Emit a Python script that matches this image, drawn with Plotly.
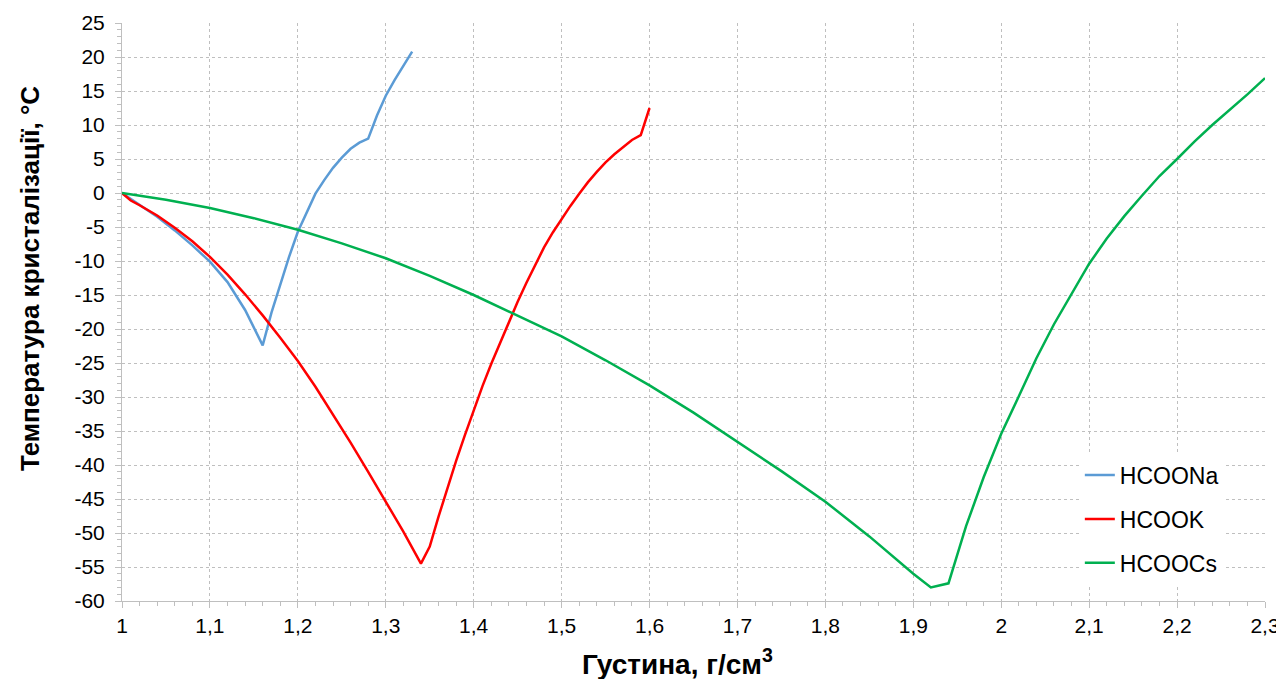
import plotly.graph_objects as go

# HCOONa
na_x = [1.00, 1.02, 1.04, 1.06, 1.08, 1.10, 1.12, 1.14, 1.16, 1.17, 1.18, 1.19, 1.20, 1.21, 1.22,
        1.23, 1.24, 1.25, 1.26, 1.27, 1.28, 1.29, 1.30, 1.31, 1.32, 1.33]
na_y = [0.0, -1.7, -3.5, -5.5, -7.7, -10.1, -13.1, -17.2, -22.4, -17.6, -13.4, -9.4, -5.7, -2.9, -0.1,
        1.9, 3.7, 5.2, 6.5, 7.4, 8.0, 11.4, 14.3, 16.6, 18.7, 20.8]

# HCOOK
k_x = [1.00, 1.01, 1.02, 1.04, 1.06, 1.08, 1.10, 1.12, 1.14, 1.16, 1.18, 1.20, 1.22, 1.24, 1.26,
       1.28, 1.30, 1.32, 1.34, 1.35, 1.36, 1.37, 1.38, 1.39, 1.40, 1.41, 1.42, 1.43, 1.44, 1.45,
       1.46, 1.47, 1.48, 1.49, 1.50, 1.51, 1.52, 1.53, 1.54, 1.55, 1.56, 1.57, 1.58, 1.59, 1.60]
k_y = [0.0, -1.1, -1.8, -3.3, -5.1, -7.1, -9.4, -12.0, -14.9, -18.0, -21.3, -24.7, -28.5, -32.5, -36.7,
       -41.0, -45.4, -49.8, -54.5, -52.0, -47.6, -43.4, -39.4, -35.6, -31.9, -28.4, -25.1, -22.0, -19.0, -16.0,
       -13.2, -10.5, -8.0, -5.8, -3.8, -1.9, -0.1, 1.6, 3.1, 4.5, 5.7, 6.8, 7.8, 8.5, 12.5]

# HCOOCs
cs_x = [1.00, 1.05, 1.10, 1.15, 1.20, 1.25, 1.30, 1.35, 1.40, 1.45, 1.50, 1.55, 1.60, 1.65, 1.70,
        1.75, 1.80, 1.85, 1.90, 1.92, 1.94, 1.96, 1.98, 2.00, 2.02, 2.04, 2.06, 2.08, 2.10, 2.12,
        2.14, 2.16, 2.18, 2.20, 2.22, 2.24, 2.26, 2.28, 2.30]
cs_y = [0.0, -1.0, -2.2, -3.7, -5.4, -7.4, -9.6, -12.2, -15.0, -18.0, -21.1, -24.6, -28.3, -32.3, -36.6,
        -40.9, -45.4, -50.5, -56.0, -58.0, -57.4, -49.0, -41.8, -35.4, -29.9, -24.3, -19.3, -14.8, -10.4, -6.7,
        -3.4, -0.4, 2.5, 5.0, 7.6, 10.0, 12.2, 14.5, 16.9]

x_ticks = [1.0, 1.1, 1.2, 1.3, 1.4, 1.5, 1.6, 1.7, 1.8, 1.9, 2.0, 2.1, 2.2, 2.3]
x_labels = ["1", "1,1", "1,2", "1,3", "1,4", "1,5", "1,6", "1,7", "1,8", "1,9", "2", "2,1", "2,2", "2,3"]
y_ticks = [-60, -55, -50, -45, -40, -35, -30, -25, -20, -15, -10, -5, 0, 5, 10, 15, 20, 25]
y_labels = ["-60", "-55", "-50", "-45", "-40", "-35", "-30", "-25", "-20", "-15", "-10", "-5",
            "0", "5", "10", "15", "20", "25"]

x_title = "<b>Густина, г/см<sup>3</sup></b>"
y_title = "<b>Температура кристалізації, °C</b>"

series = [
    ("HCOONa", na_x, na_y, "#5B9BD5"),
    ("HCOOK", k_x, k_y, "#FF0000"),
    ("HCOOCs", cs_x, cs_y, "#00B050"),
]

fig = go.Figure()
for name, xs, ys, col in series:
    fig.add_trace(go.Scatter(x=xs, y=ys, mode="lines", name=name, legendgroup=name,
                             line=dict(color=col, width=2.5)))

font_family = "Liberation Sans, Arial, sans-serif"
fig.update_layout(
    width=1276, height=671,
    margin=dict(l=114, r=19, t=15, b=78),
    paper_bgcolor="white", plot_bgcolor="white",
    font=dict(family=font_family, size=21, color="black"),
    showlegend=True,
    legend=dict(x=0.838, y=0.255, xanchor="left", yanchor="top",
                bgcolor="white", font=dict(size=23),
                traceorder="grouped", tracegroupgap=11),
    xaxis=dict(
        range=[1.0, 2.3], tickvals=x_ticks, ticktext=x_labels, automargin=False,
        ticklabeloverflow="allow",
        showgrid=True, gridcolor="#bfbfbf", griddash="dot", gridwidth=1,
        showline=True, linecolor="#bfbfbf", linewidth=1,
        ticks="outside", ticklen=6, tickcolor="#bfbfbf",
        minor=dict(dtick=0.02, ticks="outside", ticklen=4, tickcolor="#bfbfbf", showgrid=False),
        zeroline=False,
    ),
    yaxis=dict(
        range=[-60, 25], tickvals=y_ticks, ticktext=y_labels, automargin=False,
        ticklabeloverflow="allow",
        showgrid=True, gridcolor="#bfbfbf", griddash="dot", gridwidth=1,
        showline=True, linecolor="#bfbfbf", linewidth=1,
        ticks="outside", ticklen=6, tickcolor="#bfbfbf", ticklabelstandoff=6,
        minor=dict(dtick=1, ticks="outside", ticklen=4, tickcolor="#bfbfbf", showgrid=False),
        zeroline=False,
    ),
    annotations=[
        dict(text=x_title, xref="paper", yref="paper", x=0.4864, y=-0.1055,
             xanchor="center", yanchor="middle", showarrow=False, font=dict(size=28)),
        dict(text=y_title, xref="paper", yref="paper", x=-0.0805, y=0.559, textangle=-90,
             xanchor="center", yanchor="middle", showarrow=False, font=dict(size=26)),
    ],
)

fig.write_html("out.html")
